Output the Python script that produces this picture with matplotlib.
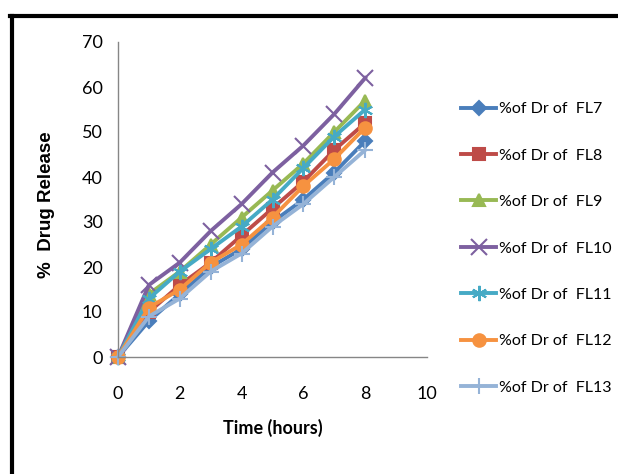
import matplotlib.pyplot as plt
from matplotlib.lines import Line2D

plt.rcParams['font.family'] = ['Lato', 'DejaVu Sans']

hours = [0, 1, 2, 3, 4, 5, 6, 7, 8]
fl7 = [0, 8, 14, 20, 24, 30, 35, 41, 48]
fl8 = [0, 10, 16, 21, 27, 33, 39, 46, 52]
fl9 = [0, 14, 19, 25, 31, 37, 43, 50, 57]
fl10 = [0, 16, 21, 28, 34, 41, 47, 54, 62]
fl11 = [0, 13, 19, 24, 29, 35, 42, 49, 55]
fl12 = [0, 11, 15, 21, 25, 31, 38, 44, 51]
fl13 = [0, 9, 13, 19, 23, 29, 34, 40, 46]

labels = ["%of Dr of  FL7", "%of Dr of  FL8", "%of Dr of  FL9", "%of Dr of  FL10",
          "%of Dr of  FL11", "%of Dr of  FL12", "%of Dr of  FL13"]
series = [fl7, fl8, fl9, fl10, fl11, fl12, fl13]
colors = ["#4A7EBB", "#BE4B48", "#98B954", "#7D60A0", "#46AAC5", "#F69240", "#95B3D7"]
markers = ["D", "s", "^", "x", (6, 2, 0), "o", "+"]
msizes = [7, 8, 8, 11, 11, 9, 12]

fig = plt.figure(figsize=(6.18, 4.74), dpi=100)
ax = fig.add_axes([118 / 618, 1 - 357 / 474, (427 - 118) / 618, (357 - 42) / 474])

for ys, lab, c, m, ms in zip(series, labels, colors, markers, msizes):
    ax.plot(hours, ys, color=c, lw=2.8, marker=m, markersize=ms,
            markeredgecolor=c, markerfacecolor=c, markeredgewidth=1.5,
            label=lab, clip_on=False)

ax.set_xlim(0, 10)
ax.set_ylim(0, 70)
ax.set_xticks(range(0, 11, 2))
ax.set_yticks(range(0, 71, 10))
ax.tick_params(length=0, labelsize=13)
ax.tick_params(axis='x', pad=21)
ax.tick_params(axis='y', pad=11)
for s in ("top", "right"):
    ax.spines[s].set_visible(False)
for s in ("left", "bottom"):
    ax.spines[s].set_color("#868686")
    ax.spines[s].set_linewidth(1)

ax.set_xlabel("Time (hours)", fontsize=13, fontweight="bold", labelpad=12)
fig.text(47 / 618, 1 - 205 / 474, "%  Drug Release", rotation=90, ha="center", va="center",
         fontsize=13.5, fontweight="bold", family=["Liberation Sans", "DejaVu Sans"])

ax.legend(loc="upper left", bbox_to_anchor=(461 / 618, 1 - 102 / 474),
          bbox_transform=fig.transFigure, frameon=False, fontsize=11.5,
          labelspacing=2.02, handlelength=2.2, handletextpad=0.2, borderpad=0,
          borderaxespad=0)

# black frame around the picture (top and left edges visible)
fig.add_artist(Line2D([12 / 618, 12 / 618], [0, 1 - 16 / 474], color="black", lw=3,
                      transform=fig.transFigure))
fig.add_artist(Line2D([10 / 618, 1], [1 - 16 / 474, 1 - 16 / 474], color="black", lw=3,
                      transform=fig.transFigure))

fig.savefig("out.png", dpi=100)
